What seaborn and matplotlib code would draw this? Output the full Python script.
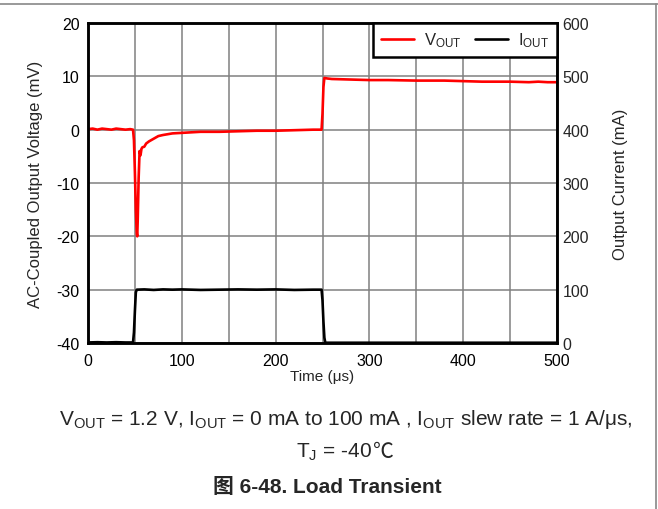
import numpy as np
import pandas as pd
import seaborn as sns
from matplotlib import pyplot as plt
from matplotlib.lines import Line2D

# Load transient data
t_vout = [0, 5, 10, 15, 20, 25, 30, 35, 40, 45, 48, 49, 50, 51, 52, 52.5, 53, 54, 55, 56,
          57, 58, 60, 62, 65, 70, 75, 80, 90, 100, 110, 120, 140, 160, 180, 200, 220, 240, 249, 250,
          251, 252, 255, 260, 280, 300, 320, 350, 380, 400, 420, 450, 470, 480, 490, 500]
vout = [0.1, 0.2, 0.0, 0.2, 0.1, 0.0, 0.2, 0.1, 0.0, 0.1, 0.0, -2, -8, -15, -19.5, -20, -17, -9, -4, -4.8,
        -3.6, -3.3, -3.2, -2.6, -2.2, -1.7, -1.2, -1.0, -0.7, -0.6, -0.5, -0.4, -0.4, -0.3, -0.2, -0.2, -0.1, 0.0, 0.0, 3,
        8, 9.7, 9.6, 9.5, 9.4, 9.3, 9.3, 9.2, 9.2, 9.1, 9.0, 9.0, 8.9, 9.0, 8.9, 8.9]

t_iout = [0, 10, 20, 30, 40, 48, 49, 50, 51, 52, 60, 70, 80, 90, 100, 120, 140, 160, 180, 200,
          220, 240, 249, 250, 251, 252, 253, 300, 350, 400, 450, 500]
iout = [1, 1.5, 1, 1.5, 1, 1, 20, 60, 95, 100, 100.5, 99.5, 100.5, 100, 100.5, 99.5, 100, 100.5, 100, 100.5,
        99.5, 100, 100, 80, 40, 10, 0.5, 0.5, 0.5, 0.5, 0.5, 0.5]

x_ticks = list(range(0, 501, 50))
x_labels = [str(v) if v % 100 == 0 else '' for v in x_ticks]
v_ticks = list(range(-40, 21, 10))
i_ticks = list(range(0, 601, 100))

sns.set_style('white')
plt.rcParams['font.family'] = ['Liberation Sans', 'Noto Sans CJK SC']
plt.rcParams['mathtext.fontset'] = 'custom'
plt.rcParams['mathtext.rm'] = 'Liberation Sans'
plt.rcParams['mathtext.it'] = 'Liberation Sans'
plt.rcParams['axes.unicode_minus'] = False

df_v = pd.DataFrame({'t': t_vout, 'v': vout})
df_i = pd.DataFrame({'t': t_iout, 'i': iout})

fig = plt.figure(figsize=(6.58, 5.10), dpi=100)
ax = fig.add_axes([88 / 658, 1 - 344 / 510, 469 / 658, 320 / 510])
ax2 = ax.twinx()

sns.lineplot(data=df_v, x='t', y='v', ax=ax, color='#ff0000', linewidth=1.9, estimator=None)
sns.lineplot(data=df_i, x='t', y='i', ax=ax2, color='black', linewidth=1.9, estimator=None)

ax.set_xlim(0, 500)
ax.set_ylim(-40, 20)
ax2.set_ylim(0, 600)
ax.set_xticks(x_ticks)
ax.set_xticklabels(x_labels)
ax.set_yticks(v_ticks)
ax2.set_yticks(i_ticks)

ax.grid(True, color='#808080', linewidth=1.1)
ax.set_axisbelow(True)
ax.tick_params(axis='both', length=0, labelsize=11.5, colors='black')
ax.tick_params(axis='y', pad=6)
ax.tick_params(axis='x', pad=7)
ax2.tick_params(axis='y', length=0, labelsize=11.5, pad=4)

for a in (ax, ax2):
    for s in a.spines.values():
        s.set_color('black')
        s.set_linewidth(1.8)

ax.set_xlabel('Time (μs)', fontsize=11, labelpad=1)
ax.set_ylabel('AC-Coupled Output Voltage (mV)', fontsize=12, labelpad=10)
ax2.set_ylabel('Output Current (mA)', fontsize=12, labelpad=17)

handles = [Line2D([], [], color='#ff0000', linewidth=1.9),
           Line2D([], [], color='black', linewidth=1.9)]
leg = ax2.legend(handles, ['V$_{\\mathrm{OUT}}$', 'I$_{\\mathrm{OUT}}$'], loc='upper right', ncol=2,
                 fontsize=12, frameon=True, fancybox=False, framealpha=1, edgecolor='black',
                 borderaxespad=0, handlelength=2.0, handletextpad=0.6, columnspacing=0.8,
                 borderpad=0.45)
leg.get_frame().set_linewidth(1.8)

# caption under the chart
fig.text(0.526, 0.178, 'V$_{\\mathrm{OUT}}$ = 1.2 V, I$_{\\mathrm{OUT}}$ = 0 mA to 100 mA , '
         'I$_{\\mathrm{OUT}}$ slew rate = 1 A/μs,', ha='center', va='center', fontsize=15)
tj = fig.text(296 / 658, 0.114, 'T$_{\\mathrm{J}}$ = -40', ha='left', va='center', fontsize=15)
ax.annotate('℃', xy=(1, 0), xycoords=tj, xytext=(1, 0), textcoords='offset points',
            ha='left', va='bottom', fontsize=15, family='Noto Sans CJK SC', annotation_clip=False)
fig.text(0.497, 0.045, '图 6-48. Load Transient', ha='center', va='center', fontsize=15,
         fontweight='bold')

# page frame lines
fig.add_artist(Line2D([0, 1], [1 - 5 / 510, 1 - 5 / 510], color='#888888', linewidth=1.2))
fig.add_artist(Line2D([1 - 2 / 658, 1 - 2 / 658], [0, 1 - 5 / 510], color='#888888', linewidth=1.2))

fig.savefig('out.png', dpi=100)
